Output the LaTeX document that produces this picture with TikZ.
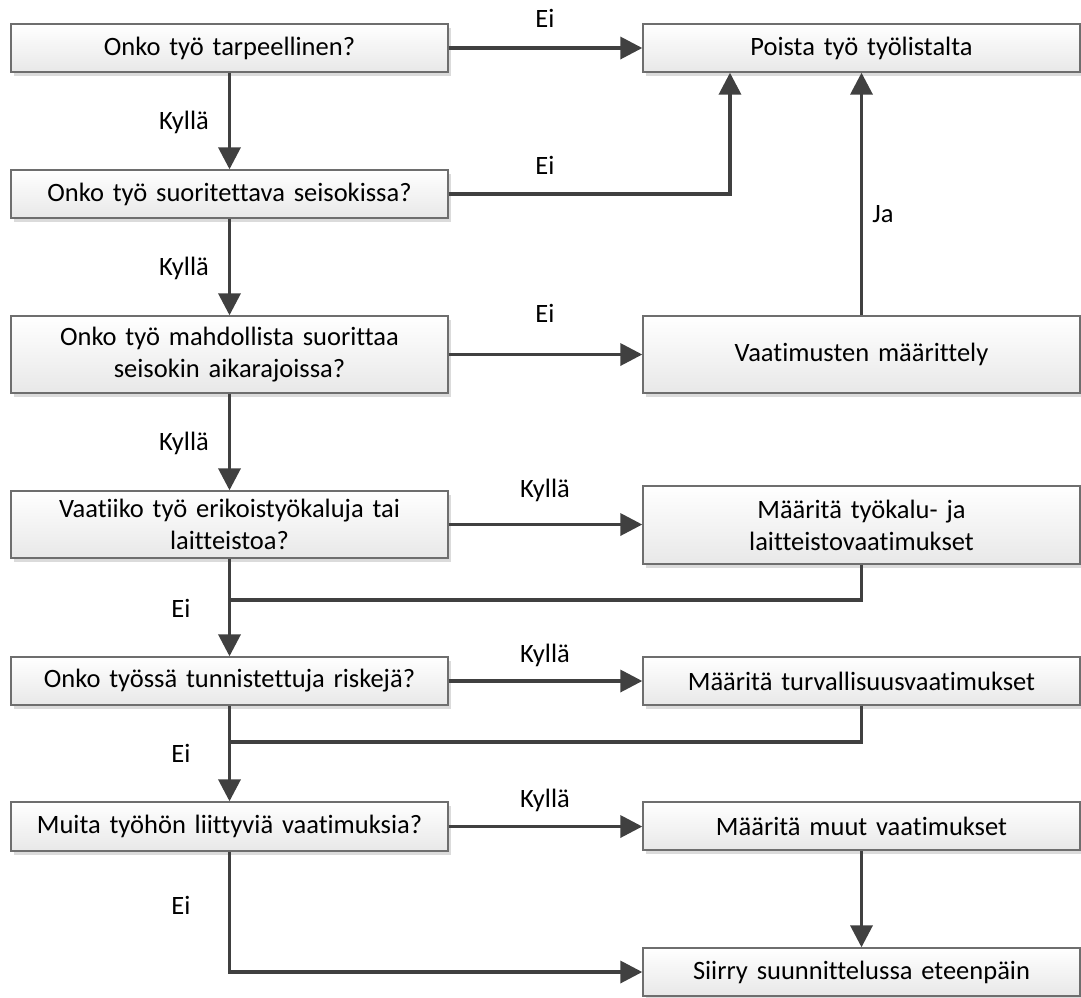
\documentclass[tikz,border=0pt]{standalone}
\usepackage{fontspec}
\setmainfont{Carlito}[Ligatures=NoCommon]
\usetikzlibrary{arrows.meta,shadows,calc}

\definecolor{edge}{HTML}{6E6E6E}
\definecolor{wire}{HTML}{404040}
\definecolor{shade}{HTML}{E8E8E8}

\tikzset{
  box/.style={draw=edge, line width=1.4pt, top color=white, bottom color=shade,
    minimum width=437pt, inner sep=4pt, align=center, text width=425pt,
    font=\fontsize{26.5}{32}\selectfont, text=black,
    drop shadow={shadow xshift=3pt, shadow yshift=-4pt, fill=black!14, opacity=1}},
  wireline/.style={draw=wire, line width=3.6pt},
  arr/.style={wireline, -{Triangle[length=22pt,width=22pt]}},
  lbl/.style={font=\fontsize{26.5}{32}\selectfont, text=black, inner sep=0pt}
}

\begin{document}
\begin{tikzpicture}[x=1pt, y=-1pt]
  \useasboundingbox (0,0) rectangle (1081,997);

  % question column
  \node[box, minimum height=48pt] (q1) at (229.5,48)    {Onko työ tarpeellinen?};
  \node[box, minimum height=48pt] (q2) at (229.5,194)   {Onko työ suoritettava seisokissa?};
  \node[box, minimum height=77pt] (q3) at (229.5,354.5) {Onko työ mahdollista suorittaa\\seisokin aikarajoissa?};
  \node[box, minimum height=67pt] (q4) at (229.5,524.5) {Vaatiiko työ erikoistyökaluja tai\\laitteistoa?};
  \node[box, minimum height=48pt] (q5) at (229.5,681)   {Onko työssä tunnistettuja riskejä?};
  \node[box, minimum height=49pt] (q6) at (229.5,826.5) {Muita työhön liittyviä vaatimuksia?};

  % action column
  \node[box, minimum height=48pt] (a1) at (861.5,48)    {Poista työ työlistalta};
  \node[box, minimum height=77pt] (a3) at (861.5,354.5) {Vaatimusten määrittely};
  \node[box, minimum height=78pt] (a4) at (861.5,525)   {Määritä työkalu- ja\\laitteistovaatimukset};
  \node[box, minimum height=48pt] (a5) at (861.5,681)   {Määritä turvallisuusvaatimukset};
  \node[box, minimum height=48pt] (a6) at (861.5,826)   {Määritä muut vaatimukset};
  \node[box, minimum height=48pt] (a7) at (861.5,972)   {Siirry suunnittelussa eteenpäin};

  % junction points where side branches rejoin the main line
  \coordinate (j4) at (230,600);
  \coordinate (j5) at (230,742);

  % main vertical flow
  \draw[arr] (q1.south) -- (q2.north);
  \draw[arr] (q2.south) -- (q3.north);
  \draw[arr] (q3.south) -- (q4.north);
  \draw[arr] (q4.south) -- (q5.north);
  \draw[arr] (q5.south) -- (q6.north);
  \draw[arr] (q6.south) |- (a7.west);

  % side branches
  \draw[arr] (q1.east) -- (a1.west);
  \draw[arr] (q2.east) -| ($(a1.south west)!0.2!(a1.south east)$);
  \draw[arr] (q3.east) -- (q3.east -| a3.west);
  \draw[arr] (a3.north) -- (a1.south);
  \draw[arr] (q4.east) -- (q4.east -| a4.west);
  \draw[wireline] (a4.south) |- (j4);
  \draw[arr] (q5.east) -- (a5.west);
  \draw[wireline] (a5.south) |- (j5);
  \draw[arr] (q6.east) -- (q6.east -| a6.west);
  \draw[arr] (a6.south) -- (a7.north);

  % branch labels
  \node[lbl] (l1) at (545,18)  {Ei};
  \node[lbl] (l2) at (545,165) {Ei};
  \node[lbl] (l3) at (545,313) {Ei};
  \node[lbl] (l4) at (545,490) {Kyllä};
  \node[lbl] (l5) at (545,655) {Kyllä};
  \node[lbl] (l6) at (545,800) {Kyllä};
  \node[lbl] (l7) at (883,214) {Ja};

  \node[lbl] (m1) at (184,122) {Kyllä};
  \node[lbl] (m2) at (184,268) {Kyllä};
  \node[lbl] (m3) at (184,443) {Kyllä};
  \node[lbl] (m4) at (181,608) {Ei};
  \node[lbl] (m5) at (181,753) {Ei};
  \node[lbl] (m6) at (181,905) {Ei};
\end{tikzpicture}
\end{document}
